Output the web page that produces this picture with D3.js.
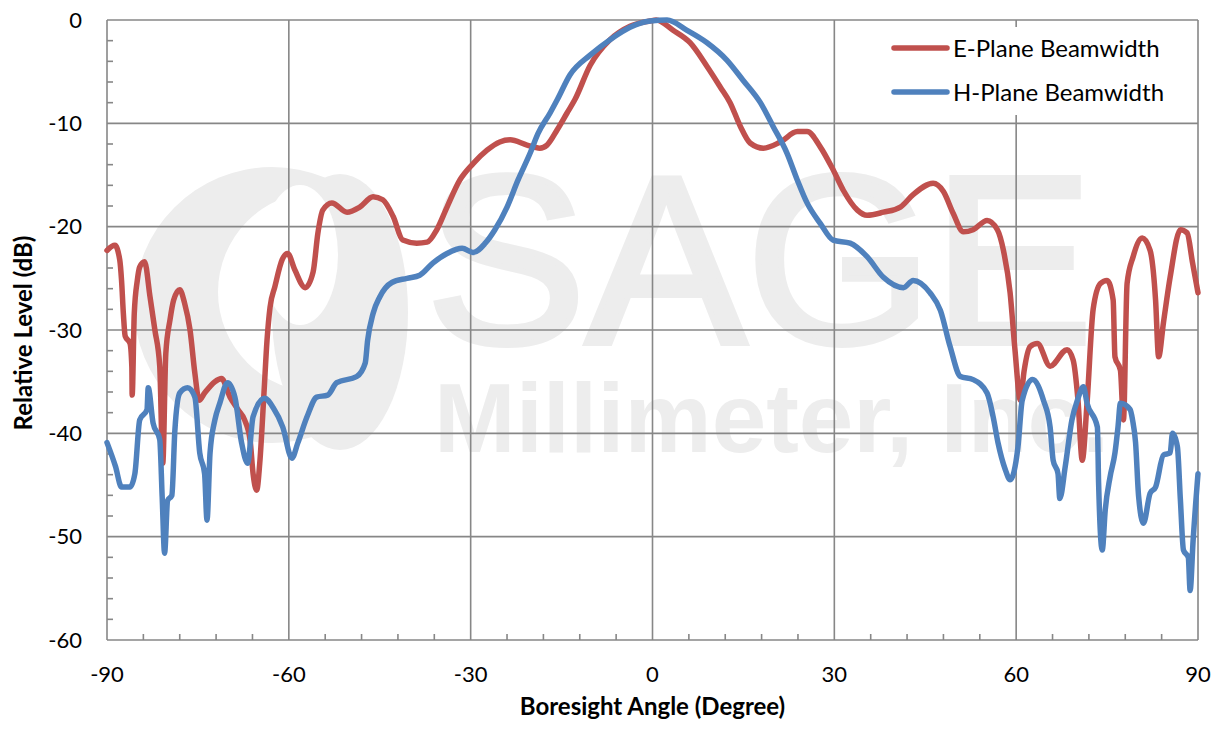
<!DOCTYPE html>
<html>
<head>
<meta charset="utf-8">
<script src="https://cdn.jsdelivr.net/npm/d3@7"></script>
<style>
  html, body { margin: 0; padding: 0; background: #fff; }
  svg { display: block; }
  text { font-family: Lato, "Open Sans", "Liberation Sans", sans-serif; }
</style>
</head>
<body>
<svg id="chart" width="1217" height="730"></svg>
<script>
// ---- data ----
const xTicks = [-90, -60, -30, 0, 30, 60, 90];
const yTicks = [0, -10, -20, -30, -40, -50, -60];
const seriesNames = ["E-Plane Beamwidth", "H-Plane Beamwidth"];

// E-Plane: [angle (deg), relative level (dB)]
const ePlane = [
  [-90,-22.3],[-88.7,-21.8],[-87.9,-23.2],[-87.6,-25.2],[-87.3,-28.4],[-87.0,-30.6],[-86.2,-31.3],[-85.9,-33.6],[-85.85,-36.3],
  [-85.5,-28.4],[-85.0,-25.2],[-84.6,-23.9],[-83.8,-23.4],[-82.9,-26.8],[-82.1,-30],[-81.3,-33.5],[-80.8,-42.9],
  [-80.3,-32.3],[-79.6,-29],[-79.0,-27.1],[-78.0,-26.1],[-77.2,-27.4],[-76.3,-30],[-75.5,-34.2],[-74.8,-36.8],
  [-73.9,-36.1],[-72.2,-35],[-71.1,-34.7],[-69.7,-36.5],[-68.4,-37.7],[-67.3,-38.7],[-66.4,-40.6],[-65.9,-43.9],
  [-65.3,-45.5],[-64.8,-42.9],[-64.1,-36.1],[-63.6,-31],[-63.1,-27.8],[-62.3,-25.8],[-61.1,-23.2],[-60.2,-22.6],
  [-59.0,-24.2],[-57.3,-25.9],[-56.0,-24.4],[-55.2,-20.6],[-54.4,-18.4],[-52.9,-17.7],[-50.4,-18.6],[-48.3,-18.1],
  [-46.1,-17.1],[-44.5,-17.4],[-42.8,-19],[-41.2,-21.3],[-38.9,-21.6],[-37.2,-21.5],[-35.6,-20.3],[-33.9,-18.1],
  [-31.8,-15.5],[-29.6,-13.9],[-27.3,-12.6],[-25.2,-11.8],[-23.5,-11.6],[-20.7,-12.1],[-18.6,-12.4],[-17.4,-12.1],
  [-15.7,-10.6],[-14.1,-9.0],[-12.8,-7.7],[-10.3,-4.4],[-7.0,-1.9],[-3.7,-0.6],[-0.4,-0.1],[0.6,0],[3.4,-1.0],
  [6.2,-2.2],[9.0,-4.5],[11.2,-6.5],[12.8,-8.0],[14.5,-10.3],[16.1,-11.9],[18.3,-12.4],[21.1,-11.8],[23.9,-10.8],
  [25.5,-10.8],[27.7,-12.3],[29.8,-14.5],[31.5,-16.5],[33.8,-18.4],[35.4,-18.9],[38.1,-18.6],[40.9,-18.1],
  [43.0,-16.9],[46.3,-15.8],[48.0,-16.6],[49.6,-18.7],[51.3,-20.5],[52.9,-20.3],[55.2,-19.4],[56.9,-20.3],
  [57.9,-22.3],[59.0,-26.4],[59.8,-31.9],[60.7,-36.8],[61.3,-34],[62.3,-31.6],[63.5,-31.3],[65.6,-33.5],
  [68.4,-31.9],[69.4,-32.9],[70.2,-36.8],[70.9,-42.6],[71.7,-37],[72.7,-28],[73.9,-25.5],[75.0,-25.2],[76.0,-27.1],
  [76.3,-32.6],[77.2,-33.9],[77.7,-38.7],[78.3,-25.5],[79.3,-22.9],[80.8,-21.1],[82.1,-22.3],[83.0,-27.1],
  [83.5,-32.6],[84.3,-29.3],[85.4,-24.9],[87.1,-20.3],[88.2,-20.6],[89.1,-23.5],[90,-26.4]
];

// H-Plane: [angle (deg), relative level (dB)]
const hPlane = [
  [-90,-40.9],[-88.6,-43.2],[-87.6,-45.2],[-86.2,-45.2],[-85.4,-43.9],[-84.6,-38.7],[-83.4,-37.7],[-83.2,-35.6],
  [-82.4,-39],[-81.3,-40.6],[-80.9,-46.1],[-80.5,-51.6],[-80.0,-46.5],[-79.3,-46],[-78.8,-39.7],[-78.0,-36.1],
  [-76.7,-35.6],[-75.5,-36.5],[-74.7,-41.9],[-73.9,-43.9],[-73.5,-48.4],[-73.0,-41.9],[-72.2,-38.7],[-71.4,-37.1],
  [-70.1,-35.1],[-68.9,-36.5],[-67.8,-40.9],[-66.8,-42.9],[-65.9,-38.4],[-64.0,-36.6],[-62.6,-37.5],[-61.0,-39.4],
  [-59.5,-42.4],[-58.5,-40.9],[-57.0,-38.4],[-55.4,-36.5],[-53.6,-36.3],[-52.1,-35.1],[-48.8,-34.5],[-47.4,-33.2],
  [-47.0,-31],[-46.1,-28.4],[-45.0,-26.8],[-43.0,-25.4],[-40.5,-25],[-38.4,-24.7],[-36.2,-23.5],[-33.9,-22.6],
  [-31.4,-22.1],[-29.6,-22.5],[-27.6,-21.6],[-26.0,-20.3],[-24.0,-18.1],[-22.2,-15.5],[-20.2,-12.9],[-18.9,-11.0],
  [-16.9,-9.0],[-15.7,-7.7],[-13.6,-5.3],[-10.3,-3.4],[-7.0,-1.9],[-3.7,-0.7],[-0.4,-0.1],[2.4,0],[5.7,-1.0],
  [9.0,-2.2],[12.3,-3.9],[14.9,-5.8],[17.8,-8.0],[19.9,-10.3],[22.2,-12.9],[23.9,-15.5],[25.5,-17.7],[27.7,-19.7],
  [29.8,-21.3],[32.6,-21.6],[35.4,-22.9],[38.1,-24.9],[41.4,-25.9],[43.0,-25.2],[45.8,-26.4],[47.5,-28.1],
  [49.1,-31.6],[50.8,-34.5],[52.9,-34.8],[55.2,-36.1],[56.2,-38.4],[57.0,-40.9],[58.2,-43.5],[59.0,-44.5],
  [60.3,-41.3],[61.0,-36.8],[62.7,-34.8],[64.5,-36.8],[65.6,-39.4],[66.1,-42.6],[66.9,-43.9],[67.2,-46.3],
  [68.1,-43.2],[69.2,-38.7],[70.1,-36.8],[71.1,-35.5],[71.7,-37.1],[73.4,-39.4],[73.6,-44.8],[74.2,-51.3],
  [74.7,-47.4],[75.5,-44.2],[76.3,-41.9],[76.8,-39.4],[77.2,-37.1],[78.8,-37.7],[79.2,-38.7],[79.7,-40.9],
  [80.2,-46.1],[81.0,-48.7],[82.1,-45.8],[83.0,-45.2],[84.3,-42.1],[85.4,-41.9],[85.8,-40],[86.6,-41.3],
  [87.1,-46.5],[87.6,-51.3],[88.4,-52],[88.7,-55.2],[89.2,-50.3],[90,-43.9]
];

// ---- layout ----
const svg = d3.select("#chart");
const L = 107, R = 1198, T = 20, B = 640;
const x = d3.scaleLinear().domain([-90, 90]).range([L, R]);
const y = d3.scaleLinear().domain([-60, 0]).range([B, T]);
const gridColor = "#878787";
const colors = ["#C0504D", "#4F81BD"];
const wmColor = "#ededed";

// ---- watermark (SAGE Millimeter logo, very light) ----
const wm = svg.append("g").attr("fill", wmColor);
wm.append("circle").attr("cx", 272).attr("cy", 305).attr("r", 138);
wm.append("circle").attr("cx", 318).attr("cy", 292).attr("r", 100).attr("fill", "#fff");
wm.append("ellipse").attr("cx", 340).attr("cy", 312).attr("rx", 68).attr("ry", 138).attr("fill", wmColor);
wm.append("ellipse").attr("cx", 300).attr("cy", 255).attr("rx", 38).attr("ry", 70).attr("fill", "#fff");
const wmText = wm.append("text")
  .style("font-family", "'Liberation Sans', Arial, sans-serif");
wmText.append("tspan").attr("x", 426).attr("y", 343)
  .style("font-size", "240px")
  .attr("stroke", wmColor).attr("stroke-width", 6)
  .text("SAGE");
wmText.append("tspan").attr("x", 434).attr("y", 452)
  .style("font-weight", "bold")
  .style("font-size", "98px").text("Millimeter, Inc.");

// ---- gridlines ----
const grid = svg.append("g").attr("stroke", gridColor).attr("stroke-width", 1.6);
grid.selectAll("line.v").data(xTicks).join("line")
  .attr("x1", d => x(d)).attr("x2", d => x(d)).attr("y1", T).attr("y2", B);
grid.selectAll("line.h").data(yTicks).join("line")
  .attr("y1", d => y(d)).attr("y2", d => y(d)).attr("x1", L).attr("x2", R);

// minor ticks (inside)
const yMinor = d3.range(-58, 0, 2).filter(v => v % 10 !== 0);
grid.selectAll("line.ym").data(yMinor).join("line")
  .attr("x1", L).attr("x2", L + 6).attr("y1", d => y(d)).attr("y2", d => y(d));
const xMinor = d3.range(-84, 90, 6).filter(v => v % 30 !== 0);
grid.selectAll("line.xm").data(xMinor).join("line")
  .attr("x1", d => x(d)).attr("x2", d => x(d)).attr("y1", B).attr("y2", B - 6);

// ---- axes labels ----
svg.append("g").selectAll("text").data(yTicks).join("text")
  .attr("x", 82).attr("y", d => y(d)).attr("dy", "0.35em")
  .attr("text-anchor", "end").style("font-size", "22px").attr("fill", "#000")
  .text(d => d);
svg.append("g").selectAll("text").data(xTicks).join("text")
  .attr("x", d => x(d)).attr("y", 682)
  .attr("text-anchor", "middle").style("font-size", "22px").attr("fill", "#000")
  .text(d => d);

svg.append("text").attr("x", (L + R) / 2).attr("y", 715)
  .attr("text-anchor", "middle").style("font-size", "24px").style("font-weight", "bold")
  .text("Boresight Angle (Degree)");
svg.append("text").attr("transform", `translate(32,${(T + B) / 2 + 3}) rotate(-90)`)
  .attr("text-anchor", "middle").style("font-size", "24px").style("font-weight", "bold")
  .text("Relative Level (dB)");

// ---- lines ----
const line = d3.line().x(d => x(d[0])).y(d => y(d[1])).curve(d3.curveMonotoneX);
[ePlane, hPlane].forEach((s, i) => {
  svg.append("path").datum(s).attr("d", line)
    .attr("fill", "none").attr("stroke", colors[i]).attr("stroke-width", 5.5)
    .attr("stroke-linejoin", "round").attr("stroke-linecap", "round");
});

// ---- legend ----
const lg = svg.append("g");
lg.append("rect").attr("x", 880).attr("y", 27).attr("width", 305).attr("height", 88).attr("fill", "#fff");
seriesNames.forEach((name, i) => {
  const cy = 48 + i * 44;
  lg.append("line").attr("x1", 894).attr("x2", 947).attr("y1", cy).attr("y2", cy)
    .attr("stroke", colors[i]).attr("stroke-width", 5.5).attr("stroke-linecap", "round");
  lg.append("text").attr("x", 953).attr("y", cy).attr("dy", "0.36em")
    .style("font-size", "24px").attr("fill", "#000").text(name);
});
</script>
</body>
</html>
